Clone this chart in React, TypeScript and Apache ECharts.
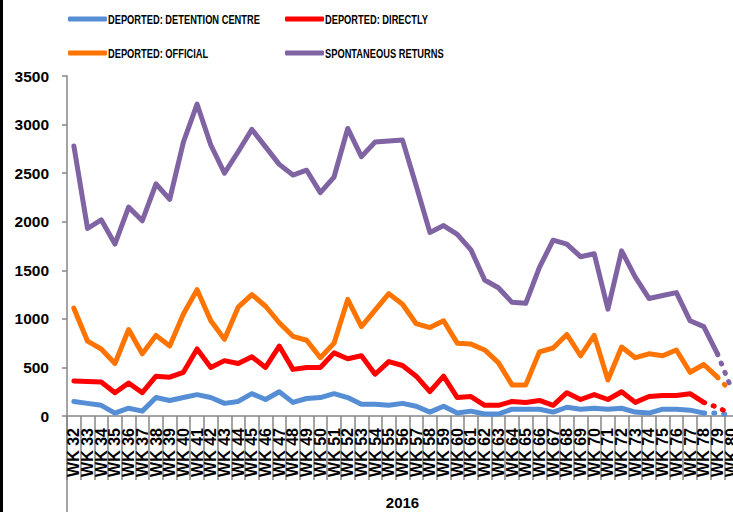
import React, { useEffect, useRef } from "react";
import * as echarts from "echarts";

const categories = [
  "WK 32", "WK 33", "WK 34", "WK 35", "WK 36", "WK 37", "WK 38", "WK 39", "WK 40", "WK 41",
  "WK 42", "WK 43", "WK 44", "WK 45", "WK 46", "WK 47", "WK 48", "WK 49", "WK 50", "WK 51",
  "WK 52", "WK 53", "WK 54", "WK 55", "WK 56", "WK 57", "WK 58", "WK 59", "WK 60", "WK 61",
  "WK 62", "WK 63", "WK 64", "WK 65", "WK 66", "WK 67", "WK 68", "WK 69", "WK 70", "WK 71",
  "WK 72", "WK 73", "WK 74", "WK 75", "WK 76", "WK 77", "WK 78", "WK 79", "WK 80",
];

const detentionCentre = [
  150, 130, 110, 30, 80, 50, 190, 160, 190, 220,
  190, 130, 150, 230, 170, 250, 140, 180, 190, 230,
  190, 120, 120, 110, 130, 100, 40, 100, 30, 50,
  20, 20, 70, 70, 70, 40, 90, 70, 80, 70,
  80, 40, 30, 70, 70, 60, 30, 30, 10,
];

const directly = [
  360, 355, 350, 240, 340, 240, 410, 400, 450, 690,
  500, 570, 540, 610, 500, 720, 480, 500, 500, 650,
  590, 620, 430, 560, 520, 410, 250, 410, 190, 200,
  110, 110, 150, 140, 160, 110, 240, 170, 220, 170,
  250, 140, 200, 210, 210, 230, 140, 90, 20,
];

const official = [
  1110, 770, 690, 540, 890, 640, 830, 720, 1050, 1300,
  980, 790, 1120, 1250, 1130, 960, 820, 780, 600, 750,
  1200, 920, 1090, 1260, 1150, 950, 910, 980, 750, 740,
  680, 550, 320, 320, 660, 700, 840, 620, 830, 370,
  710, 600, 640, 620, 680, 450, 530, 400, 250,
];

const spontaneous = [
  2780, 1930, 2020, 1770, 2150, 2010, 2390, 2230, 2820, 3210,
  2790, 2500, 2720, 2950, 2770, 2590, 2480, 2530, 2300, 2460,
  2960, 2670, 2820, 2830, 2840, 2370, 1890, 1960, 1870, 1710,
  1400, 1320, 1170, 1160, 1530, 1810, 1770, 1640, 1670, 1100,
  1700, 1430, 1210, 1240, 1270, 980, 920, 640, 290,
];

const yTicks = [0, 500, 1000, 1500, 2000, 2500, 3000, 3500];
const groupLabel = "2016";

// index of last solid point for each series (rest drawn dotted)
const solidEndDetention = 46;
const solidEndDirectly = 46;
const solidEndOfficial = 47;
const solidEndSpontaneous = 47;

const seriesDefs = [
  { name: "DEPORTED: DETENTION CENTRE", data: detentionCentre, end: solidEndDetention, color: "#558ED5" },
  { name: "DEPORTED: DIRECTLY", data: directly, end: solidEndDirectly, color: "#FF0000" },
  { name: "DEPORTED: OFFICIAL", data: official, end: solidEndOfficial, color: "#FF7300" },
  { name: "SPONTANEOUS RETURNS", data: spontaneous, end: solidEndSpontaneous, color: "#7F63A3" },
];

const legendPos = [
  { x: 68, y: 19 },
  { x: 285, y: 19 },
  { x: 68, y: 53 },
  { x: 285, y: 53 },
];

const FONT = "'Liberation Sans', Arial, sans-serif";

export default function App() {
  const ref = useRef<HTMLDivElement>(null);

  useEffect(() => {
    document.body.style.margin = "0";
    if (!ref.current) return;
    const chart = echarts.init(ref.current, undefined, { renderer: "svg" });

    const series: any[] = [];
    seriesDefs.forEach((s) => {
      series.push({
        type: "line",
        name: s.name,
        data: s.data.map((v, i) => (i <= s.end ? v : null)),
        symbol: "none",
        lineStyle: { color: s.color, width: 5, cap: "round", join: "round" },
        itemStyle: { color: s.color },
        z: 3,
      });
      series.push({
        type: "line",
        name: s.name,
        data: s.data.map((v, i) => (i >= s.end ? v : null)),
        symbol: "none",
        lineStyle: { color: s.color, width: 5, cap: "round", type: [1, 9] },
        itemStyle: { color: s.color },
        z: 3,
      });
    });

    const legends = seriesDefs.map((s, i) => ({
      left: legendPos[i].x,
      top: legendPos[i].y - 2.5,
      orient: "horizontal",
      selectedMode: false,
      itemWidth: 39,
      itemHeight: 5,
      itemGap: 0,
      padding: 0,
      formatter: () => "",
      data: [{ name: s.name, icon: "roundRect", itemStyle: { color: s.color } }],
      textStyle: { fontSize: 1, padding: 0 },
    }));

    const legendTexts = seriesDefs.map((s, i) => ({
      type: "text",
      x: legendPos[i].x + 40,
      y: legendPos[i].y,
      scaleX: 0.69,
      style: {
        text: s.name,
        font: "bold 13.5px 'Liberation Sans', Arial, sans-serif",
        fill: "#000",
        textVerticalAlign: "middle",
        verticalAlign: "middle",
      },
    }));

    chart.setOption({
      animation: false,
      backgroundColor: "#fff",
      legend: legends,
      grid: {
        left: 67,
        right: 7,
        top: 76,
        bottom: 96,
        containLabel: false,
        outerBoundsMode: "none",
      },
      xAxis: {
        type: "category",
        data: categories,
        boundaryGap: true,
        name: groupLabel,
        nameLocation: "middle",
        nameGap: 79,
        nameTextStyle: { fontFamily: FONT, fontWeight: "bold", fontSize: 15, color: "#000" },
        axisLine: { show: true, lineStyle: { color: "#868686", width: 1.5 } },
        axisTick: { show: true, interval: 0, length: 64, lineStyle: { color: "#868686", width: 1.5 } },
        axisLabel: {
          interval: 0,
          rotate: 90,
          margin: 12,
          fontFamily: FONT,
          fontWeight: "bold",
          fontSize: 16,
          color: "#000",
        },
        splitLine: { show: false },
      },
      yAxis: {
        type: "value",
        min: yTicks[0],
        max: yTicks[yTicks.length - 1],
        interval: 500,
        axisLine: { show: true, lineStyle: { color: "#868686", width: 1.5 } },
        axisTick: { show: true, length: 5, lineStyle: { color: "#868686", width: 1.5 } },
        axisLabel: {
          margin: 18,
          formatter: (v: number) => String(v),
          fontFamily: FONT,
          fontWeight: "bold",
          fontSize: 15.5,
          color: "#000",
        },
        splitLine: { show: false },
      },
      graphic: [
        { type: "rect", left: 0, top: 0, shape: { width: 3, height: 512 }, style: { fill: "#000" } },
        {
          type: "line",
          shape: { x1: 67, y1: 416, x2: 67, y2: 512 },
          style: { stroke: "#868686", lineWidth: 1.5 },
        },
        ...legendTexts,
      ],
      series,
    });

    return () => chart.dispose();
  }, []);

  return (
    <div style={{ width: 733, height: 512, overflow: "hidden", position: "relative" }}>
      <div ref={ref} style={{ width: 745, height: 512 }} />
    </div>
  );
}
